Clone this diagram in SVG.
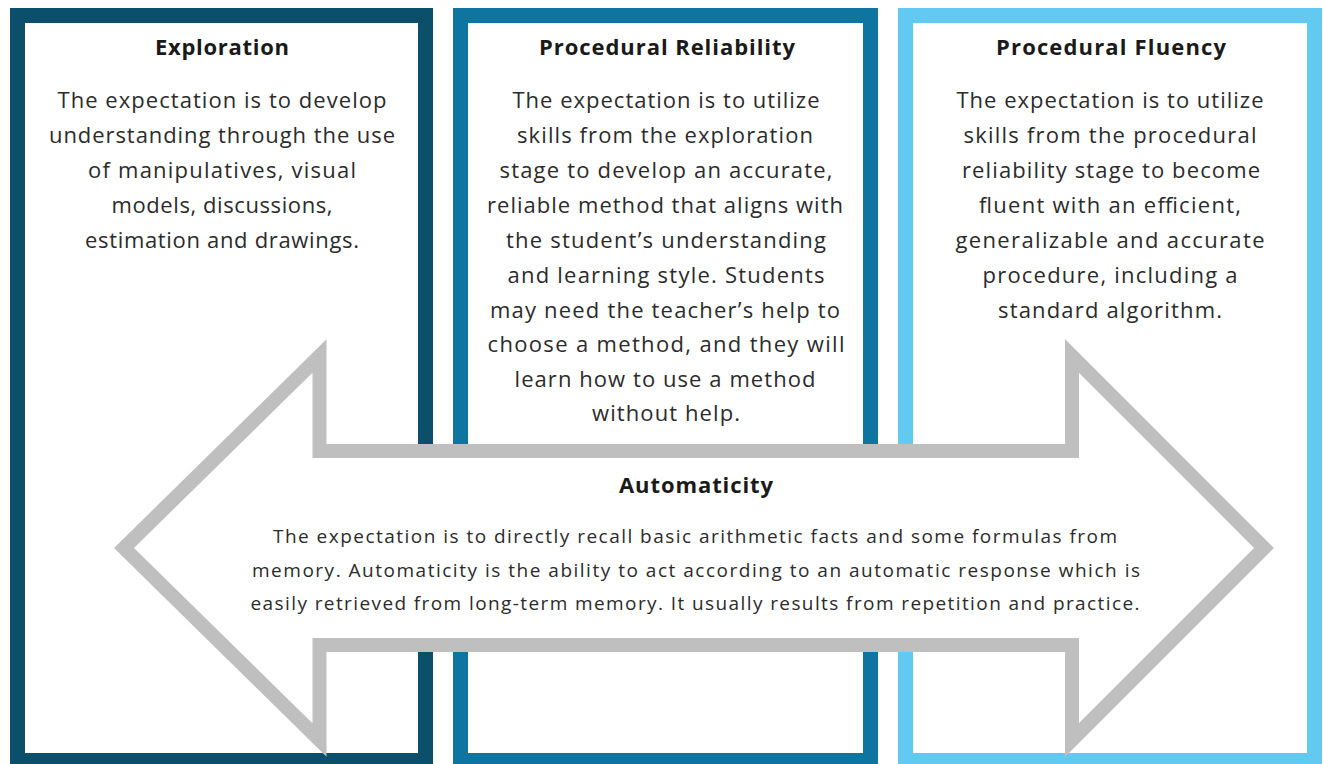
<svg xmlns="http://www.w3.org/2000/svg" width="1324" height="764" viewBox="0 0 1324 764">
<style>
.bg{fill:#ffffff}
.box{fill:#ffffff;stroke-width:15}
.t{font-family:"Open Sans","Liberation Sans",sans-serif;font-weight:bold;font-size:22px;fill:#1a1a1a;text-anchor:middle}
.b{font-family:"Open Sans","Liberation Sans",sans-serif;font-size:22px;fill:#2b2b2b;text-anchor:middle}
.s{font-family:"Open Sans","Liberation Sans",sans-serif;font-size:19px;fill:#2b2b2b;text-anchor:middle}
.arrow{fill:#ffffff;stroke:#bfbfbf;stroke-width:14;stroke-linejoin:miter;stroke-miterlimit:10}
</style>
<rect class="bg" x="0" y="0" width="1324" height="764"/>
<g id="exploration">
<rect class="box" x="17.5" y="15.5" width="408" height="745" stroke="#0b4f6a"/>
<text class="t" x="222" y="55" textLength="134" lengthAdjust="spacing">Exploration</text>
<text class="b" x="222" y="108" textLength="329" lengthAdjust="spacing">The expectation is to develop</text>
<text class="b" x="222" y="143" textLength="346" lengthAdjust="spacing">understanding through the use</text>
<text class="b" x="222" y="178" textLength="268" lengthAdjust="spacing">of manipulatives, visual</text>
<text class="b" x="222" y="213" textLength="221" lengthAdjust="spacing">models, discussions,</text>
<text class="b" x="222" y="248" textLength="274" lengthAdjust="spacing">estimation and drawings.</text>
</g>
<g id="reliability">
<rect class="box" x="460.5" y="15.5" width="410" height="745" stroke="#0e75a0"/>
<text class="t" x="667" y="55" textLength="256" lengthAdjust="spacing">Procedural Reliability</text>
<text class="b" x="666" y="108" textLength="307" lengthAdjust="spacing">The expectation is to utilize</text>
<text class="b" x="665" y="143" textLength="296" lengthAdjust="spacing">skills from the exploration</text>
<text class="b" x="666" y="178" textLength="333" lengthAdjust="spacing">stage to develop an accurate,</text>
<text class="b" x="665" y="213" textLength="356" lengthAdjust="spacing">reliable method that aligns with</text>
<text class="b" x="666" y="248" textLength="320" lengthAdjust="spacing">the student’s understanding</text>
<text class="b" x="666" y="283" textLength="317" lengthAdjust="spacing">and learning style. Students</text>
<text class="b" x="665" y="318" textLength="350" lengthAdjust="spacing">may need the teacher’s help to</text>
<text class="b" x="666" y="352" textLength="357" lengthAdjust="spacing">choose a method, and they will</text>
<text class="b" x="665" y="387" textLength="301" lengthAdjust="spacing">learn how to use a method</text>
<text class="b" x="666" y="421" textLength="148" lengthAdjust="spacing">without help.</text>
</g>
<g id="fluency">
<rect class="box" x="905.5" y="15.5" width="409" height="745" stroke="#62caf1"/>
<text class="t" x="1111" y="55" textLength="230" lengthAdjust="spacing">Procedural Fluency</text>
<text class="b" x="1110" y="108" textLength="307" lengthAdjust="spacing">The expectation is to utilize</text>
<text class="b" x="1110" y="143" textLength="293" lengthAdjust="spacing">skills from the procedural</text>
<text class="b" x="1111" y="178" textLength="298" lengthAdjust="spacing">reliability stage to become</text>
<text class="b" x="1110" y="213" textLength="262" lengthAdjust="spacing">fluent with an efficient,</text>
<text class="b" x="1110" y="248" textLength="309" lengthAdjust="spacing">generalizable and accurate</text>
<text class="b" x="1110" y="283" textLength="255" lengthAdjust="spacing">procedure, including a</text>
<text class="b" x="1110" y="318" textLength="224" lengthAdjust="spacing">standard algorithm.</text>
</g>
<g id="connectors">
<g id="automaticity">
<polygon class="arrow" points="124,548 319.5,356 319.5,451 1072,451 1072,356 1264,548 1072,740 1072,645 319.5,645 319.5,740"/>
<text class="t" x="696" y="493" textLength="154" lengthAdjust="spacing">Automaticity</text>
<text class="s" x="695" y="543" textLength="844" lengthAdjust="spacing">The expectation is to directly recall basic arithmetic facts and some formulas from</text>
<text class="s" x="696" y="577" textLength="888" lengthAdjust="spacing">memory. Automaticity is the ability to act according to an automatic response which is</text>
<text class="s" x="695" y="610" textLength="889" lengthAdjust="spacing">easily retrieved from long-term memory. It usually results from repetition and practice.</text>
</g>
</g>
</svg>
